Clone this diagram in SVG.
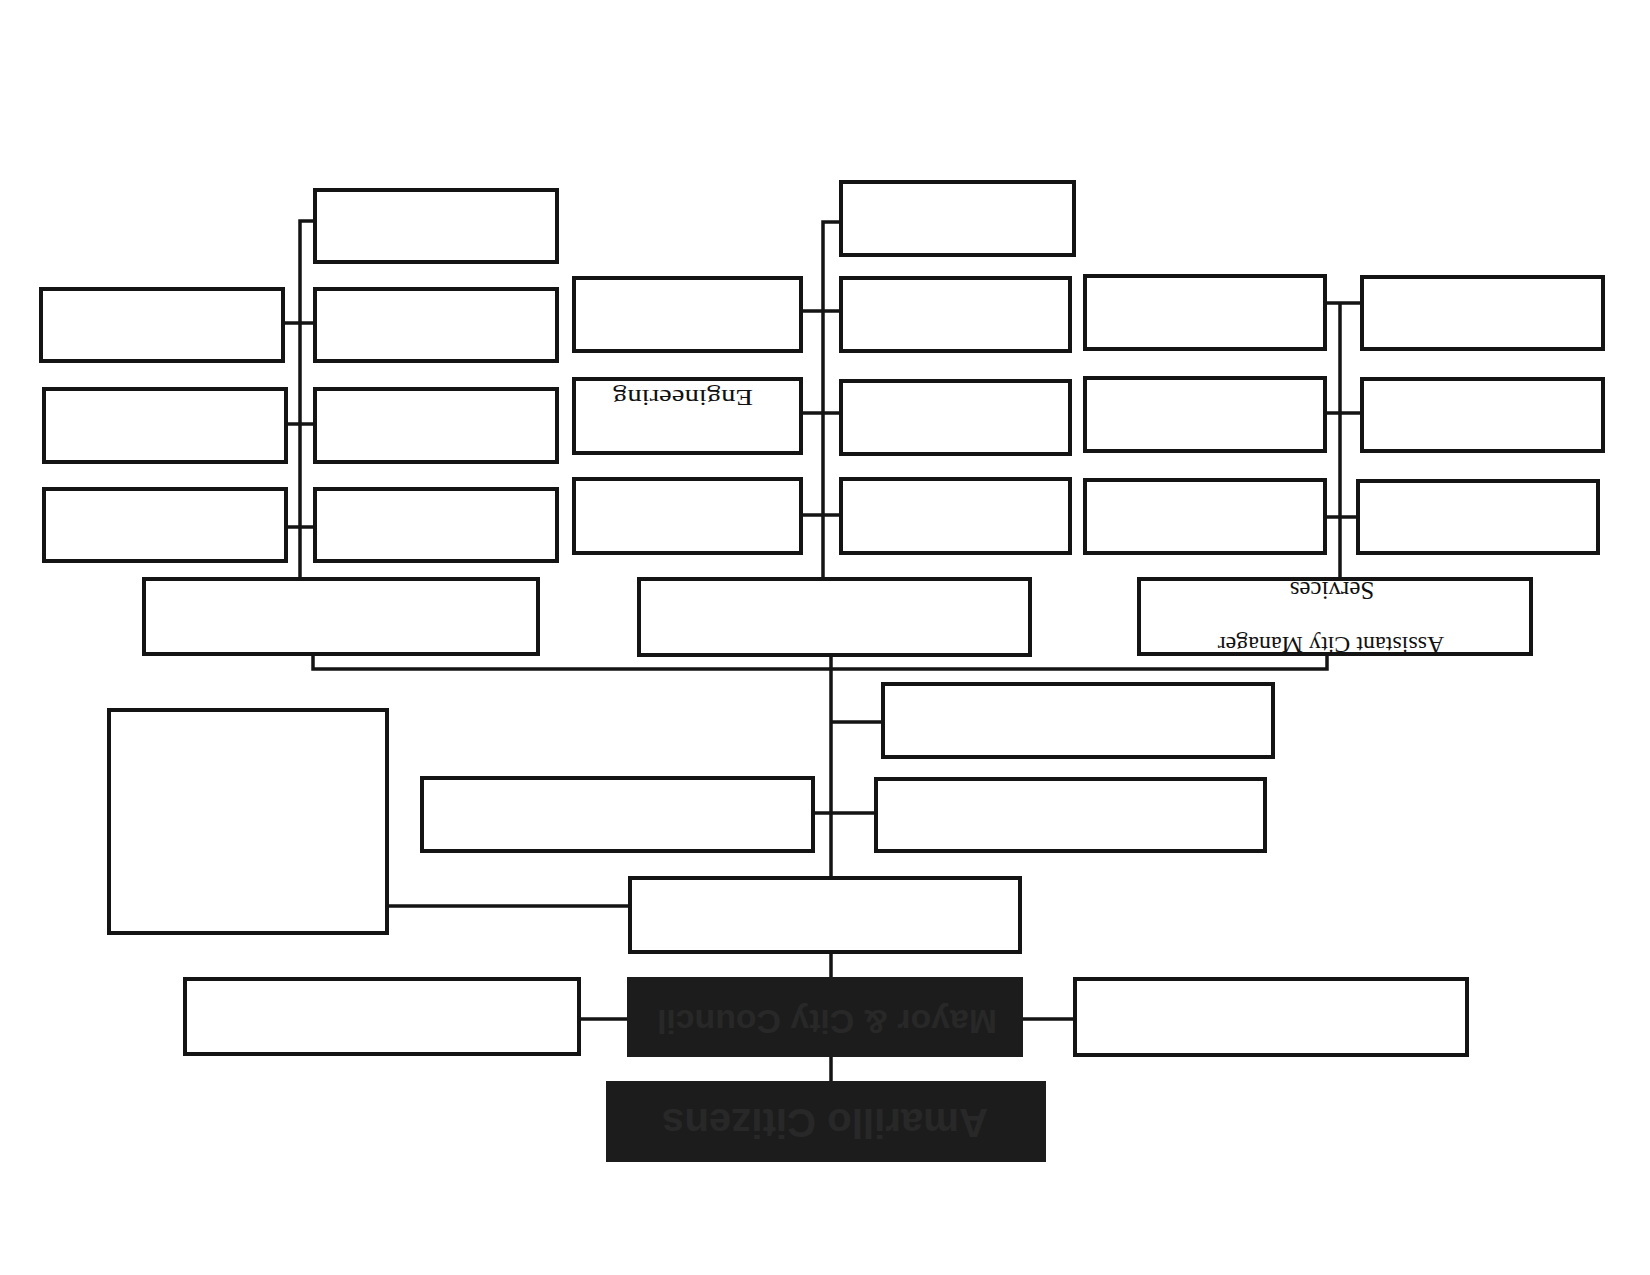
<svg xmlns="http://www.w3.org/2000/svg" width="1650" height="1275" viewBox="0 0 1650 1275">
<style>
.box{fill:#fff;stroke:#141414;stroke-width:4}
.dark{fill:#1c1c1c;stroke:#1c1c1c;stroke-width:4}
.ln{stroke:#141414;stroke-width:3.5;fill:none;stroke-linecap:square}
.lbl{font-family:"Liberation Serif","Times New Roman",serif;fill:#111;text-anchor:middle}
.dlbl{font-family:"Liberation Sans",Arial,sans-serif;font-weight:bold;fill:#282828;text-anchor:middle}
</style>
<rect width="1650" height="1275" fill="#fff"/>
<g id="connectors">
<path class="ln" d="M300 221 H313 M300 221 V577 M285 323 H313 M288 424 H313 M288 527 H313"/>
<path class="ln" d="M823 222 H839 M823 222 V577 M803 311 H839 M803 413 H839 M803 515 H839"/>
<path class="ln" d="M1340 303 V577 M1327 303 H1360 M1327 413 H1360 M1327 517 H1356"/>
<path class="ln" d="M313 657 V669 H1327 V657"/>
<path class="ln" d="M831 657 V876 M831 722 H881 M815 813 H874 M389 906 H628"/>
<path class="ln" d="M831 954 V977 M581 1019 H627 M1023 1019 H1073 M831 1057 V1081"/>
</g>
<g id="left-group">
<rect id="n-l1" class="box" x="315" y="190" width="242" height="72"/>
<rect id="n-l2a" class="box" x="41" y="289" width="242" height="72"/>
<rect id="n-l2b" class="box" x="315" y="289" width="242" height="72"/>
<rect id="n-l3a" class="box" x="44" y="389" width="242" height="73"/>
<rect id="n-l3b" class="box" x="315" y="389" width="242" height="73"/>
<rect id="n-l4a" class="box" x="44" y="489" width="242" height="72"/>
<rect id="n-l4b" class="box" x="315" y="489" width="242" height="72"/>
</g>
<g id="n-acm-left"><rect class="box" x="144" y="579" width="394" height="75"/></g>
<g id="middle-group">
<rect id="n-m1" class="box" x="841" y="182" width="233" height="73"/>
<rect id="n-m2a" class="box" x="574" y="278" width="227" height="73"/>
<rect id="n-m2b" class="box" x="841" y="278" width="229" height="73"/>
<g id="n-engineering">
<rect class="box" x="574" y="379" width="227" height="74"/>
<text class="lbl" x="683" y="390" font-size="23" textLength="140" lengthAdjust="spacingAndGlyphs" transform="rotate(180 683 390)">Engineering</text>
</g>
<rect id="n-m3b" class="box" x="841" y="381" width="229" height="73"/>
<rect id="n-m4a" class="box" x="574" y="479" width="227" height="74"/>
<rect id="n-m4b" class="box" x="841" y="479" width="229" height="74"/>
</g>
<g id="n-acm-mid"><rect class="box" x="639" y="579" width="391" height="76"/></g>
<g id="right-group">
<rect id="n-r1a" class="box" x="1085" y="276" width="240" height="73"/>
<rect id="n-r1b" class="box" x="1362" y="277" width="241" height="72"/>
<rect id="n-r2a" class="box" x="1085" y="378" width="240" height="73"/>
<rect id="n-r2b" class="box" x="1362" y="379" width="241" height="72"/>
<rect id="n-r3a" class="box" x="1085" y="480" width="240" height="73"/>
<rect id="n-r3b" class="box" x="1358" y="481" width="240" height="72"/>
</g>
<g id="n-acm-services">
<rect class="box" x="1139" y="579" width="392" height="75"/>
<text class="lbl" x="1332" y="582" font-size="25" transform="rotate(180 1332 582)">Services</text>
<text class="lbl" x="1331" y="637" font-size="24" transform="rotate(180 1331 637)">Assistant City Manager</text>
</g>
<g id="n-d1"><rect class="box" x="883" y="684" width="390" height="73"/></g>
<g id="n-d2l"><rect class="box" x="422" y="778" width="391" height="73"/></g>
<g id="n-d2r"><rect class="box" x="876" y="779" width="389" height="72"/></g>
<g id="n-tall"><rect class="box" x="109" y="710" width="278" height="223"/></g>
<g id="n-city-manager"><rect class="box" x="630" y="878" width="390" height="74"/></g>
<g id="n-mayor-left"><rect class="box" x="185" y="979" width="394" height="75"/></g>
<g id="n-mayor-right"><rect class="box" x="1075" y="979" width="392" height="76"/></g>
<g id="n-mayor">
<rect class="dark" x="629" y="979" width="392" height="76"/>
<text class="dlbl" x="827" y="1010" font-size="34" textLength="340" lengthAdjust="spacingAndGlyphs" transform="rotate(180 827 1010)">Mayor &amp; City Council</text>
</g>
<g id="n-citizens">
<rect class="dark" x="608" y="1083" width="436" height="77"/>
<text class="dlbl" x="825" y="1109" font-size="40" textLength="326" lengthAdjust="spacingAndGlyphs" transform="rotate(180 825 1109)">Amarillo Citizens</text>
</g>
</svg>
